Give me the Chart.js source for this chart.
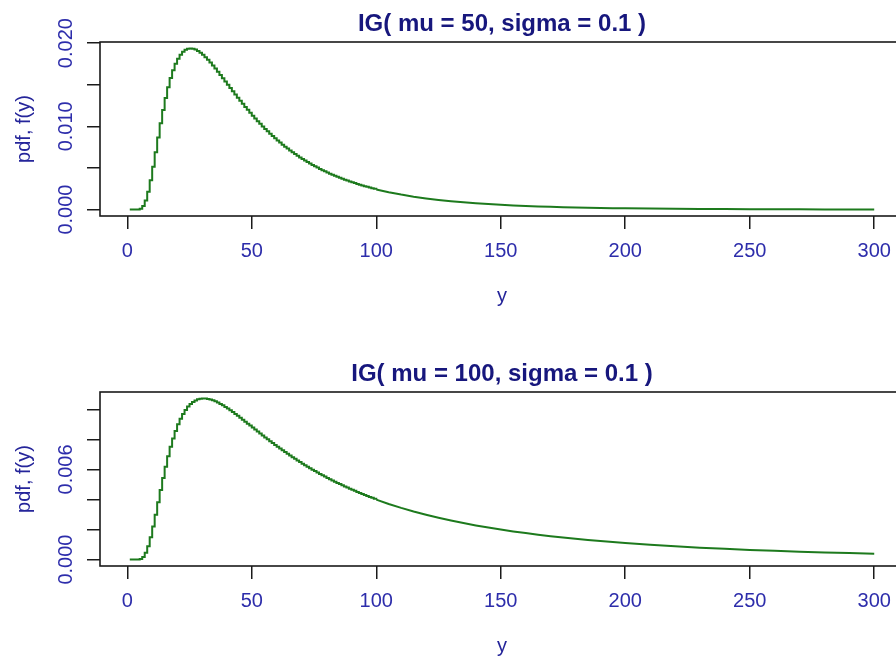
<!DOCTYPE html>
<html><head><meta charset="utf-8">
<script src="https://cdn.jsdelivr.net/npm/chart.js@4/dist/chart.umd.min.js"></script>
<style>
html,body{margin:0;padding:0;background:#fff;width:896px;height:660px;overflow:hidden;}
.panel{position:absolute;left:0;width:912px;height:350px;}
</style></head><body>
<div class="panel" style="top:0"><canvas id="c1" width="912" height="350"></canvas></div>
<div class="panel" style="top:350px"><canvas id="c2" width="912" height="350"></canvas></div>
<script>
// y grid (x-axis values) at which the pdf is plotted
const yGrid = [1,2,3,4,5,6,7,8,9,10,11,12,13,14,15,16,17,18,19,20,21,22,23,24,25,26,27,28,29,30,
  31,32,33,34,35,36,37,38,39,40,41,42,43,44,45,46,47,48,49,50,51,52,53,54,55,56,57,58,59,60,
  61,62,63,64,65,66,67,68,69,70,71,72,73,74,75,76,77,78,79,80,
  81,82,83,84,85,86,87,88,89,90,91,92,93,94,95,96,97,98,99,100,
  105,110,115,120,125,130,135,140,145,150,155,160,165,170,175,180,185,190,195,200,
  210,220,230,240,250,260,270,280,290,300];

// pdf values, IG(mu = 50, sigma = 0.1)
const pdfMu50 = [0,0,0.0000003,0.0000127,0.000108,0.000428,0.001094,0.002143,0.003525,0.005143,
  0.006883,0.008648,0.010359,0.011958,0.013410,0.014696,0.015806,0.016744,0.017517,0.018134,
  0.018609,0.018955,0.019188,0.019316,0.019358,0.019323,0.019217,0.019056,0.018849,0.018596,
  0.018312,0.017998,0.017663,0.017310,0.016943,0.016565,0.016178,0.015789,0.015396,0.015000,
  0.014607,0.014218,0.013831,0.013447,0.013070,0.012698,0.012334,0.011977,0.011627,0.011284,
  0.010949,0.010622,0.010304,0.009994,0.009692,0.009399,0.009113,0.008834,0.008565,0.008302,
  0.008048,0.007801,0.007561,0.007329,0.007104,0.006885,0.006673,0.006468,0.006269,0.006077,
  0.005889,0.005708,0.005533,0.005364,0.005199,0.005040,0.004886,0.004736,0.004592,0.004452,
  0.004317,0.004185,0.004058,0.003935,0.003816,0.003700,0.003589,0.003481,0.003376,0.003274,
  0.003176,0.003081,0.002989,0.002900,0.002813,0.002729,0.002648,0.002570,0.002494,0.002420,
  0.002084,0.001797,0.001552,0.001341,0.001161,0.001006,0.000872,0.000757,0.000658,0.000572,
  0.000498,0.000434,0.000379,0.000331,0.000289,0.000253,0.000221,0.000194,0.000170,0.000149,
  0.000115,0.000088,0.000068,0.000053,0.000041,0.000032,0.000025,0.000020,0.000015,0.000012];

// pdf values, IG(mu = 100, sigma = 0.1)
const pdfMu100 = [0,0,0.0000001,0.0000049,0.0000429,0.000172,0.000447,0.000889,0.001484,0.002198,
  0.002986,0.003809,0.004631,0.005427,0.006178,0.006873,0.007504,0.008069,0.008569,0.009005,
  0.009381,0.009699,0.009967,0.010185,0.010361,0.010499,0.010599,0.010669,0.010712,0.010729,
  0.010725,0.010700,0.010659,0.010605,0.010537,0.010457,0.010367,0.010270,0.010166,0.010055,
  0.009939,0.009820,0.009697,0.009571,0.009443,0.009313,0.009183,0.009052,0.008920,0.008788,
  0.008656,0.008524,0.008394,0.008264,0.008136,0.008009,0.007882,0.007757,0.007634,0.007512,
  0.007392,0.007274,0.007157,0.007042,0.006928,0.006816,0.006707,0.006599,0.006492,0.006388,
  0.006285,0.006184,0.006085,0.005987,0.005891,0.005798,0.005705,0.005614,0.005525,0.005438,
  0.005352,0.005267,0.005185,0.005104,0.005024,0.004945,0.004869,0.004793,0.004719,0.004647,
  0.004575,0.004505,0.004436,0.004369,0.004303,0.004238,0.004174,0.004111,0.004050,0.003989,
  0.003704,0.003442,0.003203,0.002985,0.002784,0.002600,0.002431,0.002275,0.002131,0.001998,
  0.001875,0.001761,0.001656,0.001558,0.001467,0.001383,0.001304,0.001231,0.001162,0.001098,
  0.000983,0.000881,0.000792,0.000713,0.000643,0.000582,0.000527,0.000477,0.000433,0.000394];

const titles = ['IG( mu = 50, sigma = 0.1 )', 'IG( mu = 100, sigma = 0.1 )'];
const xTicks = [0,50,100,150,200,250,300];
const yTicksTop = [0,0.005,0.010,0.015,0.020];
const yLabelValsTop = [0,0.010,0.020];
const yLabelTextTop = ['0.000','0.010','0.020'];
const yTicksBottom = [0,0.002,0.004,0.006,0.008,0.010];
const yLabelValsBottom = [0,0.006];
const yLabelTextBottom = ['0.000','0.006'];
const xAxisTitle = 'y';
const yAxisTitle = 'pdf, f(y)';
const stepUntil = 100; // the unit-spaced part of the grid is drawn as R-style steps

const FAMILY = '"Liberation Sans", Arial, sans-serif';
const TITLE_COL = '#17177d';
const LAB_COL = '#25259a';
const TICK_COL = '#2d2dab';
const LINE_COL = '#1d7a1d';
const AXIS_COL = '#1a1a1a';
Chart.defaults.font.family = FAMILY;

const rBox = {
  id: 'rBox',
  afterDraw(chart, args, opts) {
    const {ctx, chartArea: a, scales: {y}} = chart;
    ctx.save();
    ctx.strokeStyle = AXIS_COL; ctx.lineWidth = 1.6;
    ctx.strokeRect(a.left, a.top, a.right - a.left, a.bottom - a.top);
    ctx.fillStyle = TICK_COL;
    ctx.font = '20px ' + FAMILY;
    ctx.textAlign = 'center'; ctx.textBaseline = 'middle';
    opts.values.forEach((v, i) => {
      const py = y.getPixelForValue(v);
      ctx.save(); ctx.translate(66, py); ctx.rotate(-Math.PI / 2);
      ctx.fillText(opts.labels[i], 0, 0); ctx.restore();
    });
    ctx.restore();
  }
};

function makeChart(id, title, vals, yTicks, labVals, labText) {
  const xr = yGrid[yGrid.length - 1] - yGrid[0];
  const xMin = yGrid[0] - 0.04 * xr, xMax = yGrid[yGrid.length - 1] + 0.04 * xr;
  const vMax = Math.max(...vals), vMin = Math.min(...vals);
  const yr = vMax - vMin;
  const yMin = vMin - 0.04 * yr, yMax = vMax + 0.04 * yr;
  const pts = yGrid.map((x, i) => ({x: x, y: vals[i]}));
  const ptsStep = pts.filter(p => p.x <= stepUntil);
  const ptsLine = pts.filter(p => p.x >= stepUntil);
  const gridOpts = {display: true, drawOnChartArea: false, drawTicks: true, tickLength: 13, color: AXIS_COL, lineWidth: 1.5};
  const ds = {borderColor: LINE_COL, borderWidth: 2, pointRadius: 0, fill: false, tension: 0};
  return new Chart(document.getElementById(id), {
    type: 'line',
    data: {datasets: [
      Object.assign({data: ptsStep, stepped: true}, ds),
      Object.assign({data: ptsLine, stepped: false}, ds)
    ]},
    options: {
      responsive: false, animation: false, devicePixelRatio: 1,
      layout: {padding: {left: 0, right: 8, top: 0, bottom: 0}},
      plugins: {
        legend: {display: false}, tooltip: {enabled: false},
        title: {display: true, fullSize: false, text: title, color: TITLE_COL, font: {size: 24, weight: 'bold', family: FAMILY, lineHeight: 1.25}, padding: {top: 9, bottom: 3}},
        rBox: {values: labVals, labels: labText}
      },
      scales: {
        x: {
          type: 'linear', position: 'bottom', min: xMin, max: xMax,
          afterBuildTicks: s => { s.ticks = xTicks.map(v => ({value: v})); },
          afterFit: s => { s.height = 134; },
          grid: gridOpts, border: {display: false},
          ticks: {font: {size: 20, family: FAMILY}, color: TICK_COL, padding: 10, maxRotation: 0, autoSkip: false, callback: v => String(v)},
          title: {display: true, text: xAxisTitle, color: LAB_COL, font: {size: 20, family: FAMILY}, padding: {top: 0, bottom: 41.6}}
        },
        y: {
          type: 'linear', position: 'left', min: yMin, max: yMax,
          afterBuildTicks: s => { s.ticks = yTicks.map(v => ({value: v})); },
          afterFit: s => { s.width = 100; },
          grid: gridOpts, border: {display: false},
          ticks: {display: false},
          title: {display: true, text: yAxisTitle, color: LAB_COL, font: {size: 20, family: FAMILY}, padding: {top: 12.6, bottom: 0}}
        }
      }
    },
    plugins: [rBox]
  });
}

makeChart('c1', titles[0], pdfMu50, yTicksTop, yLabelValsTop, yLabelTextTop);
makeChart('c2', titles[1], pdfMu100, yTicksBottom, yLabelValsBottom, yLabelTextBottom);
</script>
</body></html>
